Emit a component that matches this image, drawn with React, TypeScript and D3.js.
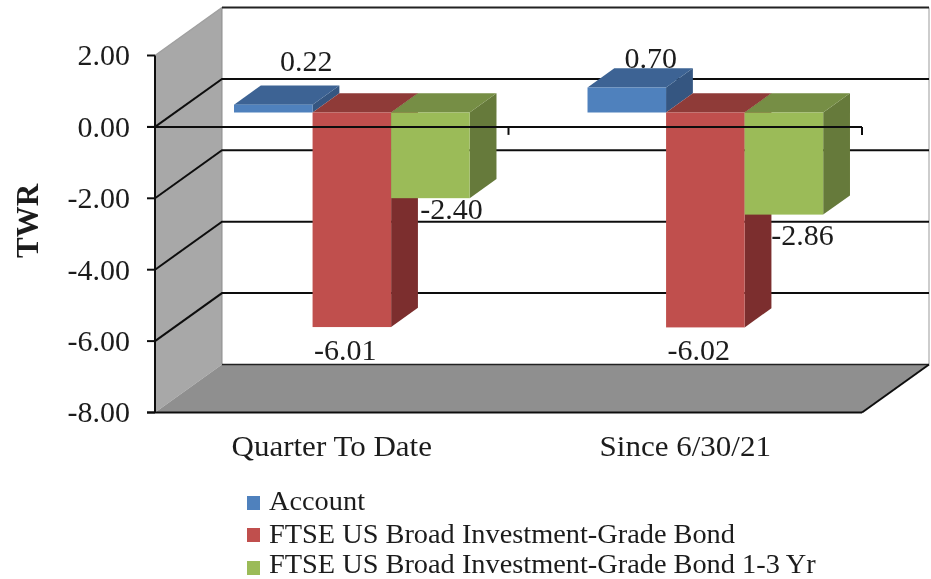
import React from 'react'
import * as d3 from 'd3'

const categories = ['Quarter To Date', 'Since 6/30/21']
const seriesNames = ['Account', 'FTSE US Broad Investment-Grade Bond', 'FTSE US Broad Investment-Grade Bond 1-3 Yr']
const accountValues = [0.22, 0.7]
const broadValues = [-6.01, -6.02]
const shortValues = [-2.4, -2.86]
const yTicks = [2, 0, -2, -4, -6, -8]

const frontColors = ['#4f81bd', '#c0504d', '#9bbb59']
const topColors = ['#3d6494', '#8f3b39', '#768e44']
const sideColors = ['#345681', '#7b2f2d', '#667a3a']

const width = 931
const height = 579
const fontFamily = '"Liberation Serif", "Times New Roman", serif'
const ink = '#1c1c1c'

// full depth of the 3d box, and where the bars sit inside it
const depthX = 67
const depthY = -48
const barStart = 0.3
const barDepth = 0.4

const y = d3.scaleLinear().domain([-8, 2]).range([412.5, 55.5])
const x = d3.scaleBand().domain(categories).range([155, 862])
const xSeries = d3.scaleBand().domain(seriesNames).range([0, x.bandwidth()]).paddingOuter(0.75).paddingInner(0)

const poly = (pts: [number, number][]) => d3.line()(pts) + 'Z'
const fmt = (v: number) => d3.format('.2f')(v).replace('\u2212', '-')

// value labels: [x from bar centre, y from bar end], per category then series
const labelOffsets = [
  [[33, -34], [-6.5, 33], [21, 21]],
  [[24, -20], [-6.5, 33], [18.5, 30]],
]

const App = () => {
  const [y0, yMin, yMax] = [y(0), y(-8), y(2)]
  const bars = categories.flatMap((c, ci) =>
    [accountValues, broadValues, shortValues].map((vals, si) => {
      const name = seriesNames[si]
      const v = vals[ci]
      const x0 = x(c)! + xSeries(name)! + depthX * barStart
      const x1 = x0 + xSeries.bandwidth()
      const top = y(Math.max(v, 0)) + depthY * barStart
      const bottom = y(Math.min(v, 0)) + depthY * barStart
      return { key: `${ci}-${si}`, si, ci, v, x0, x1, top, bottom }
    })
  )
  const dx = depthX * barDepth
  const dy = depthY * barDepth
  // series order so each front covers the side of the bar before it
  const drawOrder = [0, 1, 2].flatMap(si => bars.filter(b => b.si === si))

  return (
    <svg width={width} height={height} style={{ position: 'absolute', left: 0, top: 0, background: '#fff' }} fontFamily={fontFamily}>
      {/* the reference is a soft, upscaled picture */}
      <filter id="soft" x="0" y="0" width="100%" height="100%" filterUnits="userSpaceOnUse">
        <feGaussianBlur stdDeviation="0.55" />
      </filter>
      <g filter="url(#soft)">
        <rect width={width} height={height} fill="#fff" />
        {/* left wall */}
        <path d={poly([[155, yMax], [155 + depthX, yMax + depthY], [155 + depthX, yMin + depthY], [155, yMin]])} fill="#a8a8a8" />
        {/* floor */}
        <path d={poly([[155, yMin], [155 + depthX, yMin + depthY], [862 + depthX, yMin + depthY], [862, yMin]])} fill="#8f8f8f" />
        {/* back wall border */}
        <line x1={155 + depthX} x2={155 + depthX} y1={yMax + depthY} y2={yMin + depthY} stroke="#8c8c8c" />
        <line x1={862 + depthX} x2={862 + depthX} y1={yMax + depthY} y2={yMin + depthY} stroke="#bdbdbd" strokeWidth={1.5} />
        <line x1={155} x2={155 + depthX} y1={yMax} y2={yMax + depthY} stroke="#a0a0a0" strokeWidth={1.5} />

        {/* gridlines */}
        {yTicks.filter(t => t !== 2 && t !== -8).map(t => (
          <path
            key={t}
            d={`M${155},${y(t)}L${155 + depthX},${y(t) + depthY}L${862 + depthX},${y(t) + depthY}`}
            fill="none"
            stroke="#111"
            strokeWidth={2}
          />
        ))}
        <line x1={155 + depthX} x2={862 + depthX} y1={yMax + depthY} y2={yMax + depthY} stroke="#222" strokeWidth={2} />
        <line x1={155 + depthX} x2={862 + depthX} y1={yMin + depthY} y2={yMin + depthY} stroke="#222" strokeWidth={1.5} />
        <line x1={862} x2={862 + depthX} y1={yMin} y2={yMin + depthY} stroke="#111" strokeWidth={2} />

        {/* bars */}
        {drawOrder.map(b => (
          <g key={b.key}>
            <path d={poly([[b.x1, b.top], [b.x1 + dx, b.top + dy], [b.x1 + dx, b.bottom + dy], [b.x1, b.bottom]])} fill={sideColors[b.si]} />
            <path d={poly([[b.x0, b.top], [b.x0 + dx, b.top + dy], [b.x1 + dx, b.top + dy], [b.x1, b.top]])} fill={topColors[b.si]} />
            <rect x={b.x0} y={b.top} width={b.x1 - b.x0} height={b.bottom - b.top} fill={frontColors[b.si]} />
          </g>
        ))}

        {/* axes */}
        <line x1={155} x2={155} y1={yMax} y2={yMin} stroke="#111" strokeWidth={2} />
        <line x1={147} x2={862} y1={yMin} y2={yMin} stroke="#111" strokeWidth={2} />
        <line x1={147} x2={862} y1={y0} y2={y0} stroke="#111" strokeWidth={2} />
        {yTicks.map(t => (
          <g key={t}>
            <line x1={147} x2={155} y1={y(t)} y2={y(t)} stroke="#111" strokeWidth={2} />
            <text x={130} y={y(t)} dy="0.33em" textAnchor="end" fontSize={30} fill={ink}>{fmt(t)}</text>
          </g>
        ))}
        {[155, x(categories[1])!, 862].map(tx => (
          <line key={tx} x1={tx} x2={tx} y1={y0} y2={y0 + 8} stroke="#111" strokeWidth={2} />
        ))}
        {categories.map(c => (
          <text
            key={c}
            transform={`translate(${x(c)! + x.bandwidth() / 2},456) scale(1.07,1)`}
            textAnchor="middle"
            fontSize={29}
            fill={ink}
          >
            {c}
          </text>
        ))}
        <text transform={`translate(38,221) rotate(-90)`} textAnchor="middle" fontSize={31} fontWeight="bold" fill={ink}>TWR</text>

        {/* value labels */}
        {bars.map(b => {
          const [ox, oy] = labelOffsets[b.ci][b.si]
          const end = b.v > 0 ? b.top : b.bottom
          return (
            <text key={b.key} x={(b.x0 + b.x1) / 2 + ox} y={end + oy} textAnchor="middle" fontSize={30} fill={ink}>
              {fmt(b.v)}
            </text>
          )
        })}

        {/* legend */}
        {seriesNames.map((n, i) => (
          <g key={n}>
            <rect x={247} y={[496, 528, 561][i]} width={13} height={14} fill={frontColors[i]} />
            <text transform={`translate(269,${[510, 543, 573][i]}) scale(1.05,1)`} fontSize={27} fill={ink}>{n}</text>
          </g>
        ))}
      </g>
    </svg>
  )
}

export default App
